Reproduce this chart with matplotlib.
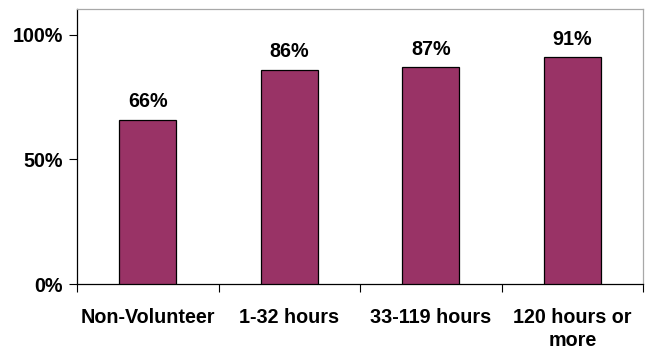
import matplotlib
matplotlib.use("Agg")
import matplotlib.pyplot as plt
from matplotlib.ticker import FixedLocator

categories = ["Non-Volunteer", "1-32 hours", "33-119 hours", "120 hours or\nmore"]
values = [66, 86, 87, 91]
ytick_values = [0, 50, 100]
ytick_labels = ["0%", "50%", "100%"]

plt.rcParams["font.family"] = ["Liberation Sans", "DejaVu Sans"]
plt.rcParams["font.weight"] = "bold"

FS = 14.2

fig = plt.figure(figsize=(6.52, 3.51), dpi=100)
ax = fig.add_axes([77 / 652, 1 - 284 / 351, 566 / 652, 275 / 351])

x = list(range(len(categories)))
ax.bar(x, values, width=0.4, color="#993366", edgecolor="black", linewidth=0.9, zorder=3)

for xi, v in zip(x, values):
    ax.annotate(f"{v}%", (xi, v), xytext=(0, 6), textcoords="offset points",
                ha="center", va="bottom", fontsize=FS, fontweight="bold")

ax.set_xlim(-0.5, len(categories) - 0.5)
ax.set_ylim(0, 110.4)
ax.set_yticks(ytick_values)
ax.set_yticklabels(ytick_labels, fontsize=FS, fontweight="bold")

# category labels centred, ticks at category boundaries
ax.set_xticks(x)
ax.set_xticklabels(categories, fontsize=FS, fontweight="bold", linespacing=1.3)
ax.tick_params(axis="x", which="major", length=0, pad=17)
ax.xaxis.set_minor_locator(FixedLocator([i - 0.5 for i in range(len(categories) + 1)]))
ax.tick_params(axis="x", which="minor", length=6, width=0.8, color="black", direction="out")
ax.tick_params(axis="y", length=6, width=0.8, direction="out", pad=4)

for side in ["left", "bottom"]:
    ax.spines[side].set_color("black")
    ax.spines[side].set_linewidth(0.9)
for side in ["top", "right"]:
    ax.spines[side].set_color("#a8a8a8")
    ax.spines[side].set_linewidth(0.9)

fig.savefig("out.png", dpi=100, facecolor="white")
